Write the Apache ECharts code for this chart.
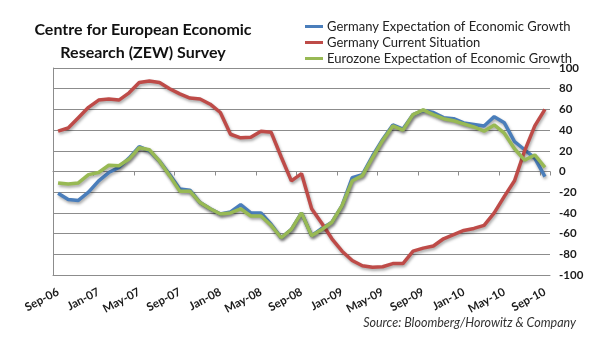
<!DOCTYPE html>
<html>
<head>
<meta charset="utf-8">
<script src="https://cdn.jsdelivr.net/npm/echarts@6/dist/echarts.min.js"></script>
<style>
html,body{margin:0;padding:0;background:#fff;}
#chart{width:610px;height:341px;}
</style>
</head>
<body>
<div id="chart"></div>
<script>
var months = ['Sep-06','Oct-06','Nov-06','Dec-06','Jan-07','Feb-07','Mar-07','Apr-07','May-07','Jun-07','Jul-07','Aug-07',
  'Sep-07','Oct-07','Nov-07','Dec-07','Jan-08','Feb-08','Mar-08','Apr-08','May-08','Jun-08','Jul-08','Aug-08',
  'Sep-08','Oct-08','Nov-08','Dec-08','Jan-09','Feb-09','Mar-09','Apr-09','May-09','Jun-09','Jul-09','Aug-09',
  'Sep-09','Oct-09','Nov-09','Dec-09','Jan-10','Feb-10','Mar-10','Apr-10','May-10','Jun-10','Jul-10','Aug-10','Sep-10'];

var germanyExpectation = [-21,-27,-28,-20,-9,-1,4,13,24,20,10,-3,
  -17,-18,-30,-36,-41,-39,-32,-40,-40,-51,-64,-56,
  -40,-62,-55,-49,-33,-6,-3,15,31,45,41,55,
  59,57,52,51,47,45.5,44,53,47,29,21,13,-5];

var germanyCurrent = [39,42,52,62,69,70,69,76,86,87.5,86,80,
  75,71,70,65,57,36,32.5,33,39,38,14,-9,
  -2,-36,-50,-65,-77,-86,-91,-92.5,-92,-89,-89,-77,
  -74,-72,-65,-61,-57,-55,-52,-40,-24,-9,20,44,60];

var eurozoneExpectation = [-11,-12,-11,-3,-1,6,5.5,12,23,21,10,-4,
  -19,-19,-30,-36,-41,-40,-36,-43,-43,-52,-64,-56,
  -40,-62,-56,-49,-33,-9,-4,13.5,30,44,40,55,
  59.5,55,51,49,46,43,39,45,37,22,11,16,4];

var yTicks = {min:-100, max:100, interval:20};

var seriesNames = ['Germany Expectation of Economic Growth','Germany Current Situation','Eurozone Expectation of Economic Growth'];
var colors = ['#4a7ebb','#be4b48','#98b954'];

var chart = echarts.init(document.getElementById('chart'), null, {renderer:'canvas'});

function mk(name, data, color) {
  return {
    name: name, type: 'line', data: data, symbol: 'none', smooth: false,
    xAxisIndex: 0, yAxisIndex: 0,
    lineStyle: {color: color, width: 3.5, shadowBlur: 3, shadowColor: 'rgba(0,0,0,0.35)', shadowOffsetX: 1, shadowOffsetY: 2},
    itemStyle: {color: color},
    z: 3
  };
}

var labelFont = {fontFamily: 'Lato', fontWeight: 'bold', fontSize: 11.5, color: '#1a1a1a'};

chart.setOption({
  animation: false,
  backgroundColor: '#fff',
  grid: {left: 53, right: 60, top: 68, bottom: 66, containLabel: false},
  graphic: [
    {type: 'text', x: 143, y: 30, style: {text: 'Centre for European Economic', font: 'bold 16px Lato', fill: '#111', textAlign: 'center', textVerticalAlign: 'middle'}},
    {type: 'text', x: 143, y: 53, style: {text: 'Research (ZEW) Survey', font: 'bold 16px Lato', fill: '#111', textAlign: 'center', textVerticalAlign: 'middle'}},
    {type: 'text', x: 576, y: 323, style: {text: 'Source: Bloomberg/Horowitz & Company', font: 'italic 12.5px Lato', fill: '#333', textAlign: 'right', textVerticalAlign: 'middle'}}
  ],
  legend: {
    orient: 'vertical', left: 300, top: 14,
    icon: 'rect', itemWidth: 18, itemHeight: 3, itemGap: 1,
    textStyle: {fontFamily: 'Lato', fontSize: 13, color: '#222', lineHeight: 15, padding: [0,0,0,-1]},
    data: seriesNames
  },
  xAxis: [
    {
      type: 'category', data: months, position: 'bottom', boundaryGap: true,
      axisLine: {show: true, onZero: false, lineStyle: {color: '#8c8c8c', width: 1}},
      axisTick: {show: false},
      axisLabel: Object.assign({interval: 3, rotate: 28, margin: 16}, labelFont),
      splitLine: {show: false}
    },
    {
      type: 'category', data: months, position: 'bottom', boundaryGap: true,
      axisLine: {show: true, onZero: true, lineStyle: {color: '#8c8c8c', width: 1}},
      axisTick: {show: true, interval: 3, length: 4, lineStyle: {color: '#8c8c8c'}},
      axisLabel: {show: false},
      splitLine: {show: false}
    }
  ],
  yAxis: [
    {
      type: 'value', position: 'left', min: yTicks.min, max: yTicks.max, interval: yTicks.interval,
      axisLine: {show: true, lineStyle: {color: '#8c8c8c'}},
      axisTick: {show: false},
      axisLabel: {show: false},
      splitLine: {show: true, lineStyle: {color: '#8c8c8c', width: 1}}
    },
    {
      type: 'value', position: 'right', min: yTicks.min, max: yTicks.max, interval: yTicks.interval,
      axisLine: {show: false}, axisTick: {show: false},
      axisLabel: Object.assign({margin: 9, align: 'left'}, labelFont),
      splitLine: {show: false}
    }
  ],
  series: [
    mk(seriesNames[0], germanyExpectation, colors[0]),
    mk(seriesNames[1], germanyCurrent, colors[1]),
    mk(seriesNames[2], eurozoneExpectation, colors[2])
  ]
});
</script>
</body>
</html>
